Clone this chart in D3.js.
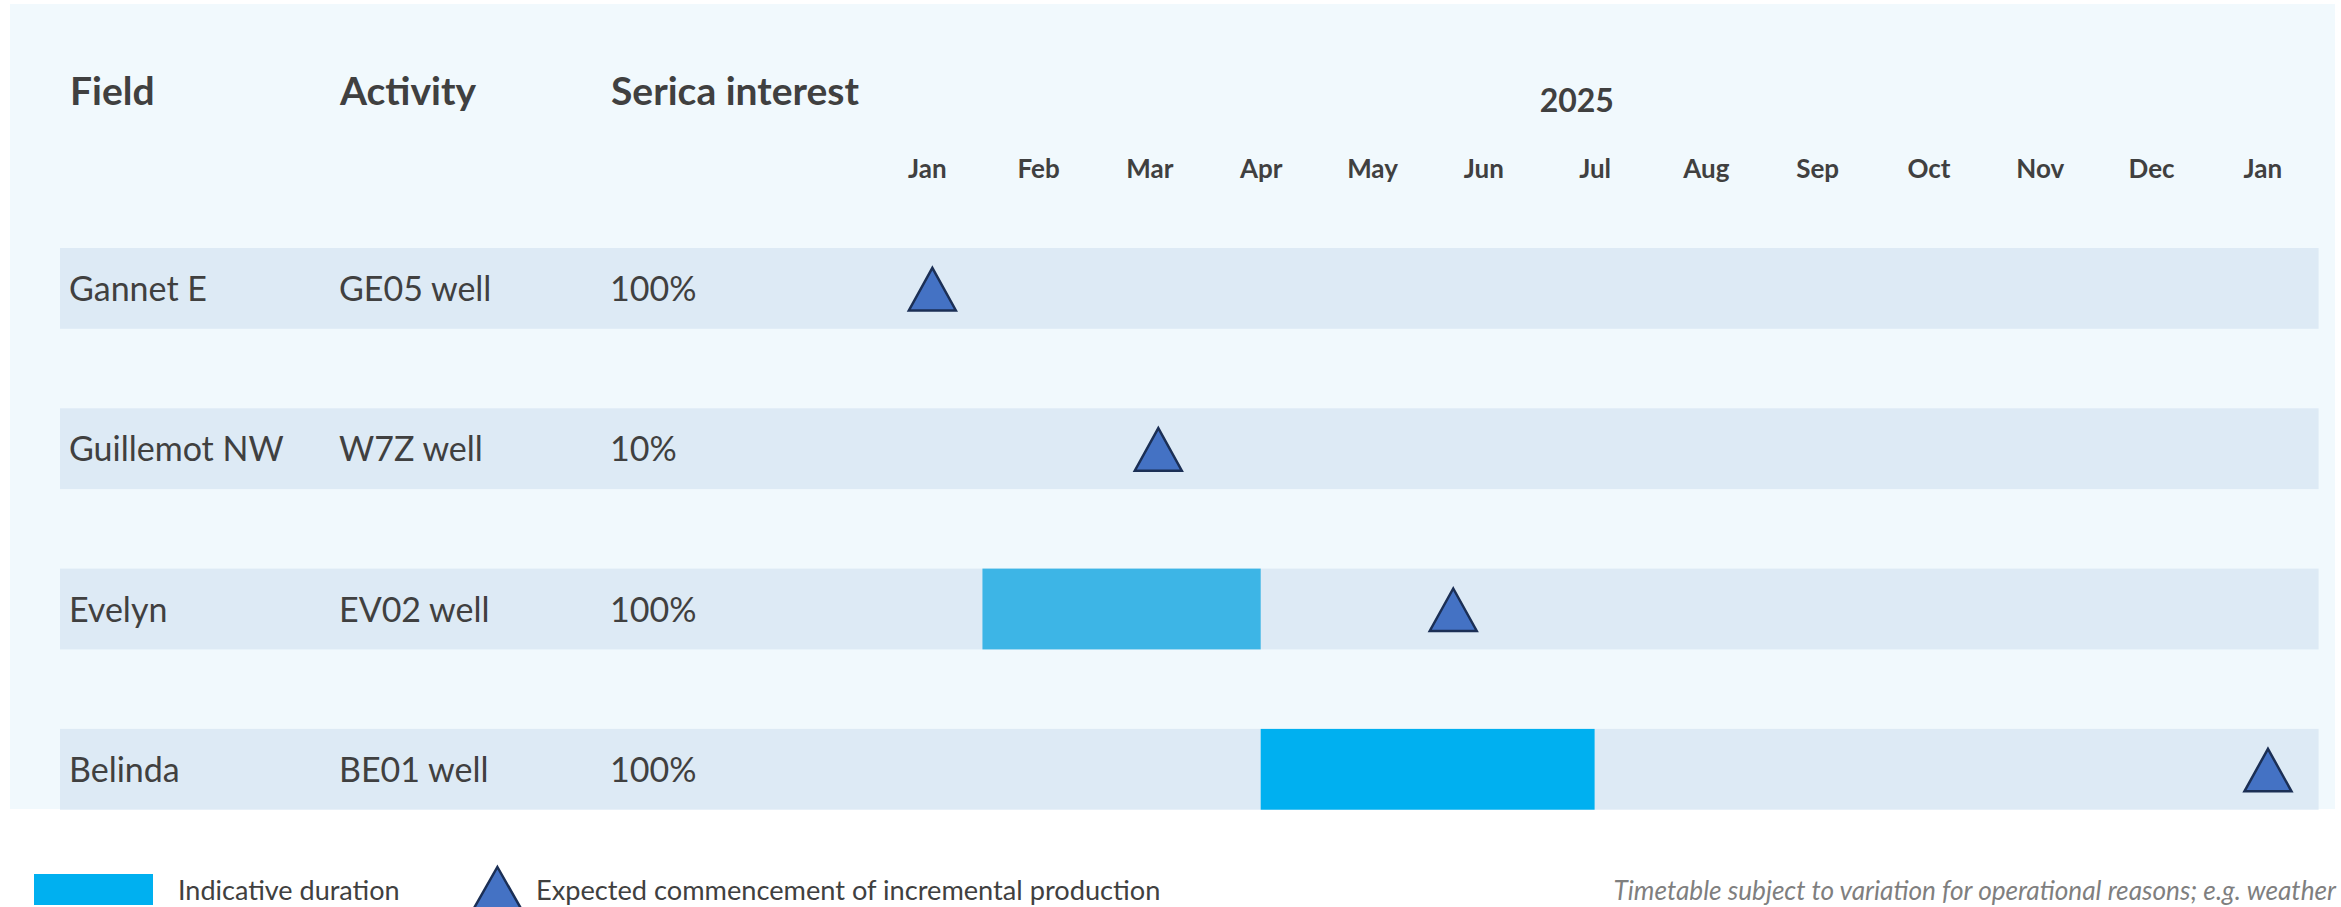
<!DOCTYPE html>
<html>
<head>
<meta charset="utf-8">
<script src="https://cdn.jsdelivr.net/npm/d3@7"></script>
<style>
  html, body { margin: 0; padding: 0; background: #ffffff; }
  svg { display: block; }
  text { font-family: Lato, "Open Sans", sans-serif; }
</style>
</head>
<body>
<div id="chart"></div>
<script>
// ---------------- data ----------------
const fields     = ["Gannet E", "Guillemot NW", "Evelyn", "Belinda"];
const activities = ["GE05 well", "W7Z well", "EV02 well", "BE01 well"];
const interests  = ["100%", "10%", "100%", "100%"];

const columnHeaders = ["Field", "Activity", "Serica interest"];
const yearLabel = "2025";
const monthLabels = ["Jan","Feb","Mar","Apr","May","Jun","Jul","Aug","Sep","Oct","Nov","Dec","Jan"];

// durations, in months from 1 Jan 2025 (0 = Jan 2025, 12 = Jan 2026)
const durationFields = ["Evelyn", "Belinda"];
const durationStart  = [0.5, 3.0];
const durationEnd    = [3.0, 6.0];

// expected commencement of incremental production (months from 1 Jan 2025)
const milestoneFields = ["Gannet E", "Guillemot NW", "Evelyn", "Belinda"];
const milestoneAt     = [0.05, 2.08, 4.73, 12.05];

const legendLabels = ["Indicative duration", "Expected commencement of incremental production"];
const footnote = "Timetable subject to variation for operational reasons; e.g. weather";

// ---------------- layout / style ----------------
const W = 2341, H = 907;
const textColor = "#404040";
const panelColor = "#F1F9FD";
const bandColor = "#DDEAF5";
const durationColors = ["#3DB5E6", "#00B0F0"];
const triFill = "#4472C4", triStroke = "#1B2F55";

const svg = d3.select("#chart").append("svg")
  .attr("width", W).attr("height", H);

// background panel
svg.append("rect")
  .attr("x", 10).attr("y", 4).attr("width", 2325).attr("height", 805)
  .attr("fill", panelColor);

const x = d3.scaleLinear().domain([0, 12]).range([926.8, 2262.4]);
const y = d3.scaleBand().domain(fields).range([248, 809.7])
  .paddingInner(0.496).paddingOuter(0);

const bandLeft = 60, bandRight = 2318.6;
const colX = [69, 339, 610];

// row bands
svg.append("g").selectAll("rect").data(fields).join("rect")
  .attr("x", bandLeft).attr("width", bandRight - bandLeft)
  .attr("y", d => y(d)).attr("height", y.bandwidth())
  .attr("fill", bandColor);

// duration bars
svg.append("g").selectAll("rect").data(durationFields).join("rect")
  .attr("x", (d, i) => x(durationStart[i]))
  .attr("width", (d, i) => x(durationEnd[i]) - x(durationStart[i]))
  .attr("y", d => y(d)).attr("height", y.bandwidth())
  .attr("fill", (d, i) => durationColors[i]);

// column headers
svg.append("g").selectAll("text").data(columnHeaders).join("text")
  .attr("x", (d, i) => colX[i] + 1).attr("y", 105)
  .attr("font-size", 39).attr("font-weight", 700)
  .attr("fill", textColor).text(d => d);

// year label
svg.append("text")
  .attr("x", x(5.84)).attr("y", 112).attr("text-anchor", "middle")
  .attr("font-size", 32).attr("font-weight", 700)
  .attr("fill", textColor).text(yearLabel);

// month axis
const axis = d3.axisTop(x)
  .tickValues(d3.range(monthLabels.length))
  .tickFormat(i => monthLabels[i])
  .tickSize(0).tickPadding(0);
const ag = svg.append("g").attr("transform", "translate(0,178)").call(axis);
ag.select(".domain").remove();
ag.selectAll("text")
  .attr("font-family", "Lato, 'Open Sans', sans-serif")
  .attr("font-size", 26).attr("font-weight", 700)
  .attr("fill", textColor);

// row text columns
const cols = [fields, activities, interests];
cols.forEach((arr, ci) => {
  svg.append("g").selectAll("text").data(arr).join("text")
    .attr("x", colX[ci])
    .attr("y", (d, i) => y(fields[i]) + y.bandwidth() / 2 + 12.5)
    .attr("font-size", 34).attr("fill", textColor)
    .text(d => d);
});

// triangles
function triPath(cx, cy, hw, up, down) {
  return `M${cx},${cy - up}L${cx + hw},${cy + down}L${cx - hw},${cy + down}Z`;
}
svg.append("g").selectAll("path").data(milestoneFields).join("path")
  .attr("d", (d, i) => triPath(x(milestoneAt[i]), y(d) + y.bandwidth() / 2, 23.5, 20.5, 22))
  .attr("fill", triFill).attr("stroke", triStroke).attr("stroke-width", 2.5)
  .attr("stroke-linejoin", "miter");

// legend
svg.append("rect").attr("x", 34).attr("y", 874).attr("width", 119).attr("height", 31)
  .attr("fill", durationColors[1]);
svg.append("text").attr("x", 178).attr("y", 900)
  .attr("font-size", 27).attr("fill", textColor).text(legendLabels[0]);
svg.append("path")
  .attr("d", triPath(497.4, 866 + 26, 29, 25, 26))
  .attr("fill", triFill).attr("stroke", triStroke).attr("stroke-width", 2.5);
svg.append("text").attr("x", 536).attr("y", 900)
  .attr("font-size", 27.2).attr("fill", textColor).text(legendLabels[1]);

// footnote
svg.append("text").attr("x", 2336).attr("y", 900).attr("text-anchor", "end")
  .attr("font-size", 26.2).attr("font-style", "italic").attr("fill", "#7F7F7F")
  .text(footnote);
</script>
</body>
</html>
